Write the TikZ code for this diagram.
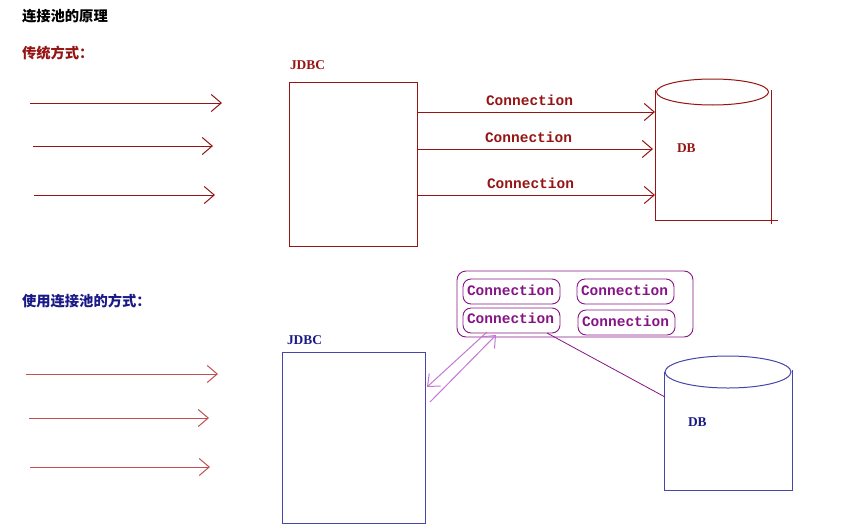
\documentclass[tikz,border=0pt]{standalone}
\usepackage{fontspec}
\setmainfont{Liberation Serif}
\newfontfamily\cjk{Noto Sans CJK SC}
\newfontfamily\monob{Liberation Mono}
\usetikzlibrary{arrows.meta}
\definecolor{dred}{RGB}{150,20,20}
\definecolor{lred}{RGB}{195,80,80}
\definecolor{navytxt}{RGB}{25,25,135}
\definecolor{navyln}{RGB}{70,70,170}
\definecolor{purp}{RGB}{135,20,135}
\definecolor{lpurp}{RGB}{195,120,215}
\begin{document}
\begin{tikzpicture}[x=1pt,y=-1pt,
  every node/.style={inner sep=0pt, outer sep=0pt},
  cjktitle/.style={anchor=west, font=\cjk\bfseries\fontsize{14.3}{16}\selectfont},
  conntxt/.style={anchor=west, font=\monob\bfseries\fontsize{14.5}{16}\selectfont},
  lbl/.style={anchor=west, font=\bfseries\fontsize{13.4}{15}\selectfont},
  barb/.style={-{Straight Barb[length=10pt,width=17pt]}},
  redarrow/.style={draw=dred, line width=1pt, barb},
  lredarrow/.style={draw=lred, line width=1pt, barb},
  poolbox/.style={draw=purp, line width=0.9pt, rounded corners=8pt, minimum width=97pt, minimum height=25pt, anchor=north west},
  lpline/.style={draw=lpurp, line width=1pt}
]
\useasboundingbox (0,0) rectangle (866,530);
\fill[white] (0,0) rectangle (866,530);

% ---------- titles ----------
\node[cjktitle, text=black] (title) at (22,16) {连接池的原理};
\node[cjktitle, text=dred] (trad) at (22,53) {传统方式：};
\node[cjktitle, text=navytxt] (pooltitle) at (22,301) {使用连接池的方式：};

% ---------- top section ----------
\coordinate (ta1s) at (30,103);  \coordinate (ta1e) at (222,103);
\coordinate (ta2s) at (33,146);  \coordinate (ta2e) at (213,146);
\coordinate (ta3s) at (34,195);  \coordinate (ta3e) at (215,195);
\draw[redarrow] (ta1s) -- (ta1e);
\draw[redarrow] (ta2s) -- (ta2e);
\draw[redarrow] (ta3s) -- (ta3e);

\node[lbl, text=dred] (jdbc1lbl) at (290,65) {JDBC};
\node[draw=dred, line width=1pt, minimum width=128pt, minimum height=164pt] (jdbc1) at (353,164) {};

% DB cylinder top
\draw[dred, line width=1pt] (712.5,92) ellipse [x radius=56, y radius=13];
\coordinate (db1tl) at (655,90); \coordinate (db1bl) at (655,221);
\coordinate (db1tr) at (771,90); \coordinate (db1br) at (771,224);
\coordinate (db1bx) at (778,220); \coordinate (db1bs) at (655,220);
\draw[dred, line width=1pt] (db1tl) -- (db1bl);
\draw[dred, line width=1pt] (db1tr) -- (db1br);
\draw[dred, line width=1pt] (db1bs) -- (db1bx);
\node[lbl, text=dred] (db1lbl) at (677,148) {DB};

\coordinate (ca1) at (655,112);
\coordinate (ca2) at (653,149);
\coordinate (ca3) at (655,195);
\draw[redarrow] (jdbc1.east |- ca1) -- (ca1);
\draw[redarrow] (jdbc1.east |- ca2) -- (ca2);
\draw[redarrow] (jdbc1.east |- ca3) -- (ca3);
\node[conntxt, text=dred] (cl1) at (486,100) {Connection};
\node[conntxt, text=dred] (cl2) at (485,137) {Connection};
\node[conntxt, text=dred] (cl3) at (487,183) {Connection};

% ---------- bottom section ----------
\coordinate (ba1s) at (26,374);  \coordinate (ba1e) at (218,374);
\coordinate (ba2s) at (29,418);  \coordinate (ba2e) at (209,418);
\coordinate (ba3s) at (30,467);  \coordinate (ba3e) at (210,467);
\draw[lredarrow] (ba1s) -- (ba1e);
\draw[lredarrow] (ba2s) -- (ba2e);
\draw[lredarrow] (ba3s) -- (ba3e);

\node[lbl, text=navytxt] (jdbc2lbl) at (287,340) {JDBC};
\node[draw=navyln, line width=1pt, minimum width=143pt, minimum height=171pt] (jdbc2) at (353.5,437.5) {};

% pool
\node[draw=purp, line width=0.9pt, rounded corners=9pt, minimum width=236pt, minimum height=66pt] (pool) at (575,304) {};
\node[poolbox] (p1) at (463,279) {};
\node[poolbox] (p2) at (577,279) {};
\node[poolbox] (p3) at (463,308) {};
\node[poolbox] (p4) at (578,310) {};
\node[conntxt, text=purp] (p1t) at (467,290) {Connection};
\node[conntxt, text=purp] (p2t) at (581,290) {Connection};
\node[conntxt, text=purp] (p3t) at (467,318) {Connection};
\node[conntxt, text=purp] (p4t) at (582,321) {Connection};

% DB cylinder bottom
\draw[navyln, line width=1pt] (728,372) ellipse [x radius=63, y radius=16];
\coordinate (db2tl) at (664,372); \coordinate (db2bl) at (664,490);
\coordinate (db2tr) at (792,370); \coordinate (db2br) at (792,490);
\draw[navyln, line width=1pt] (db2tl) -- (db2bl) -- (db2br) -- (db2tr);
\node[lbl, text=navytxt] (db2lbl) at (688,422) {DB};

% arrows pool <-> jdbc
\coordinate (pa1s) at (487,332); \coordinate (pa1e) at (427,387);
\coordinate (pa2s) at (430,402); \coordinate (pa2e) at (496,335);
\draw[lpline, barb] (pa1s) -- (pa1e);
\draw[lpline, barb] (pa2s) -- (pa2e);

% pool -> db
\coordinate (pd1) at (547,333); \coordinate (pd2) at (665,397);
\draw[purp, line width=0.8pt] (pd1) -- (pd2);
\end{tikzpicture}
\end{document}
